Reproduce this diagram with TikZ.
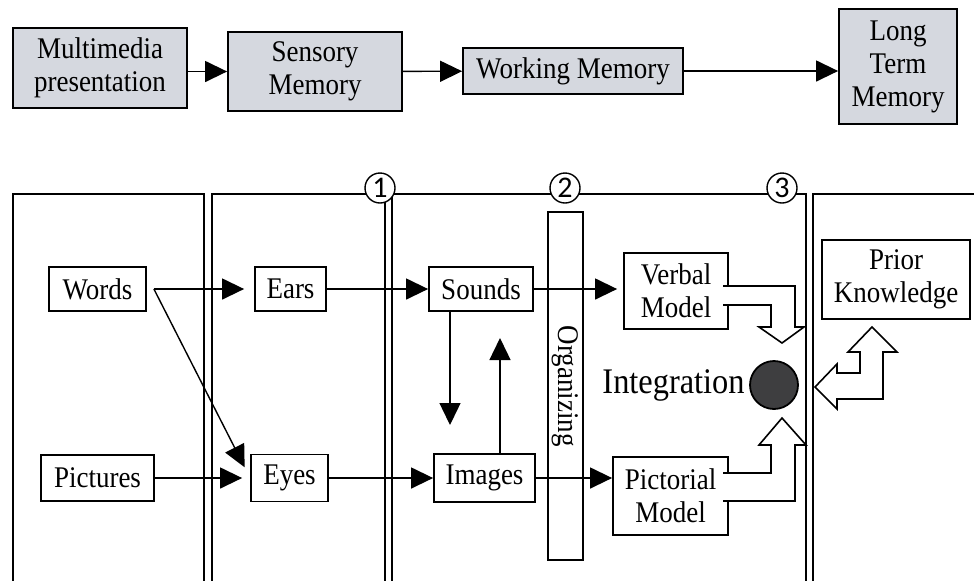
\documentclass[tikz,border=0pt]{standalone}
\usepackage{fontspec}
\setmainfont{Liberation Serif}[FakeStretch=0.9]
\newfontfamily\numfont{Carlito}
\usetikzlibrary{arrows.meta,positioning,calc}
\definecolor{memgray}{RGB}{213,216,223}
\definecolor{integgray}{RGB}{62,62,64}

\begin{document}
\begin{tikzpicture}[
    x=0.5pt, y=-0.5pt,
    box/.style={rectangle, draw, line width=0.9pt, inner sep=0pt, align=center, font=\fontsize{15}{16.5}\selectfont},
    membox/.style={box, fill=memgray},
    arrow/.style={-{Triangle[length=11pt,width=10.5pt]}, line width=0.7pt},
    panel/.style={line width=0.8pt},
    hollow/.style={draw, fill=white, line width=0.8pt, line join=miter},
    stage/.style={circle, draw, fill=white, line width=0.7pt, inner sep=0pt, minimum size=15pt, font=\numfont\fontsize{15}{15}\selectfont}
]
    \useasboundingbox (0,0) rectangle (974,580);

    % Memory stages
    \node[membox, minimum width=87pt, minimum height=40pt] (mm) at (100,68) {Multimedia\\presentation};
    \node[membox, minimum width=87pt, minimum height=39.5pt] (sens) at (315,71.5) {Sensory\\Memory};
    \node[membox, minimum width=110pt, minimum height=23pt] (wm) at (573,71) {Working Memory};
    \node[membox, minimum width=59pt, minimum height=57.5pt] (ltm) at (898,66.5) {Long\\Term\\Memory};

    \draw[arrow] (mm.east |- sens) -- (sens);
    \draw[arrow] (sens) -- (wm);
    \draw[arrow] (wm) -- (ltm.west |- wm);

    % Panels
    \draw[panel] (13,590) |- (204,194) -- (204,590);
    \draw[panel] (212,590) |- (385,194) -- (385,590);
    \draw[panel] (392,590) |- (806,194) -- (806,590);
    \draw[panel] (813,590) |- (990,194);

    % Stage numbers
    \node[stage] (one) at (380,188) {1};
    \node[stage] (two) at (565,188) {2};
    \node[stage] (three) at (782,188) {3};

    % Boxes
    \node[box, minimum width=48.5pt, minimum height=22pt] (words) at (97.5,289) {Words};
    \node[box, minimum width=56.5pt, minimum height=23pt] (pics) at (97.5,478) {Pictures};
    \node[box, minimum width=35.5pt, minimum height=22pt] (ears) at (290.5,289) {Ears};
    \node[box, minimum width=38.5pt, minimum height=23.5pt] (eyes) at (289.5,478) {Eyes};
    \node[box, minimum width=52pt, minimum height=22pt] (sounds) at (481,289) {Sounds};
    \node[box, minimum width=50.5pt, minimum height=24pt] (images) at (484.5,478) {Images};
    \node[box, rotate=-90, minimum width=174pt, minimum height=17.5pt] (org) at (565.5,386) {Organizing};
    \node[box, minimum width=52pt, minimum height=38pt] (verbal) at (676,291) {Verbal\\Model};
    \node[box, minimum width=57.5pt, minimum height=39pt] (pict) at (670.5,496) {Pictorial\\Model};
    \node[box, minimum width=74pt, minimum height=39.5pt] (prior) at (896,279.5) {Prior\\Knowledge};

    \node[circle, draw, fill=integgray, line width=0.9pt, inner sep=0pt, minimum size=24pt] (integ) at (774,385) {};
    \node[anchor=east, inner sep=0pt, font=\fontsize{18}{18}\selectfont] (integtext) at (745,385) {Integration};

    % Arrows
    \coordinate (wstart) at ($(words.east)+(7,0)$);
    \draw[arrow, shorten <=3.5pt, shorten >=5pt] (words) -- (ears);
    \draw[arrow, shorten >=6pt] (wstart) -- (eyes.west);
    \draw[arrow, shorten >=4pt] (pics) -- (eyes);
    \draw[arrow] (ears) -- (sounds);
    \draw[arrow] (eyes) -- (images);
    \coordinate (sdown) at (450,425);
    \draw[arrow] (sounds.south -| sdown) -- (sdown);
    \coordinate (iup) at (500,338);
    \draw[arrow] (images.north -| iup) -- (iup);
    \draw[arrow, shorten >=3pt] (sounds) -- (verbal.west |- sounds);
    \draw[arrow] (images) -- (pict.west |- images);

    % Hollow arrows
    \draw[hollow] (723,286) -- (795,286) -- (795,327) -- (804,327) -- (782,343) -- (759,327) -- (771,327) -- (771,305) -- (723,305);
    \draw[hollow] (723,473) -- (771,473) -- (771,445) -- (759,445) -- (782,418) -- (806,445) -- (795,445) -- (795,501) -- (723,501);
    \draw[hollow] (815,387) -- (837,364) -- (837,373) -- (860,373) -- (860,352) -- (848,352) -- (872,327) -- (897,352) -- (883,352) -- (883,399) -- (837,399) -- (837,409) -- cycle;
\end{tikzpicture}
\end{document}
